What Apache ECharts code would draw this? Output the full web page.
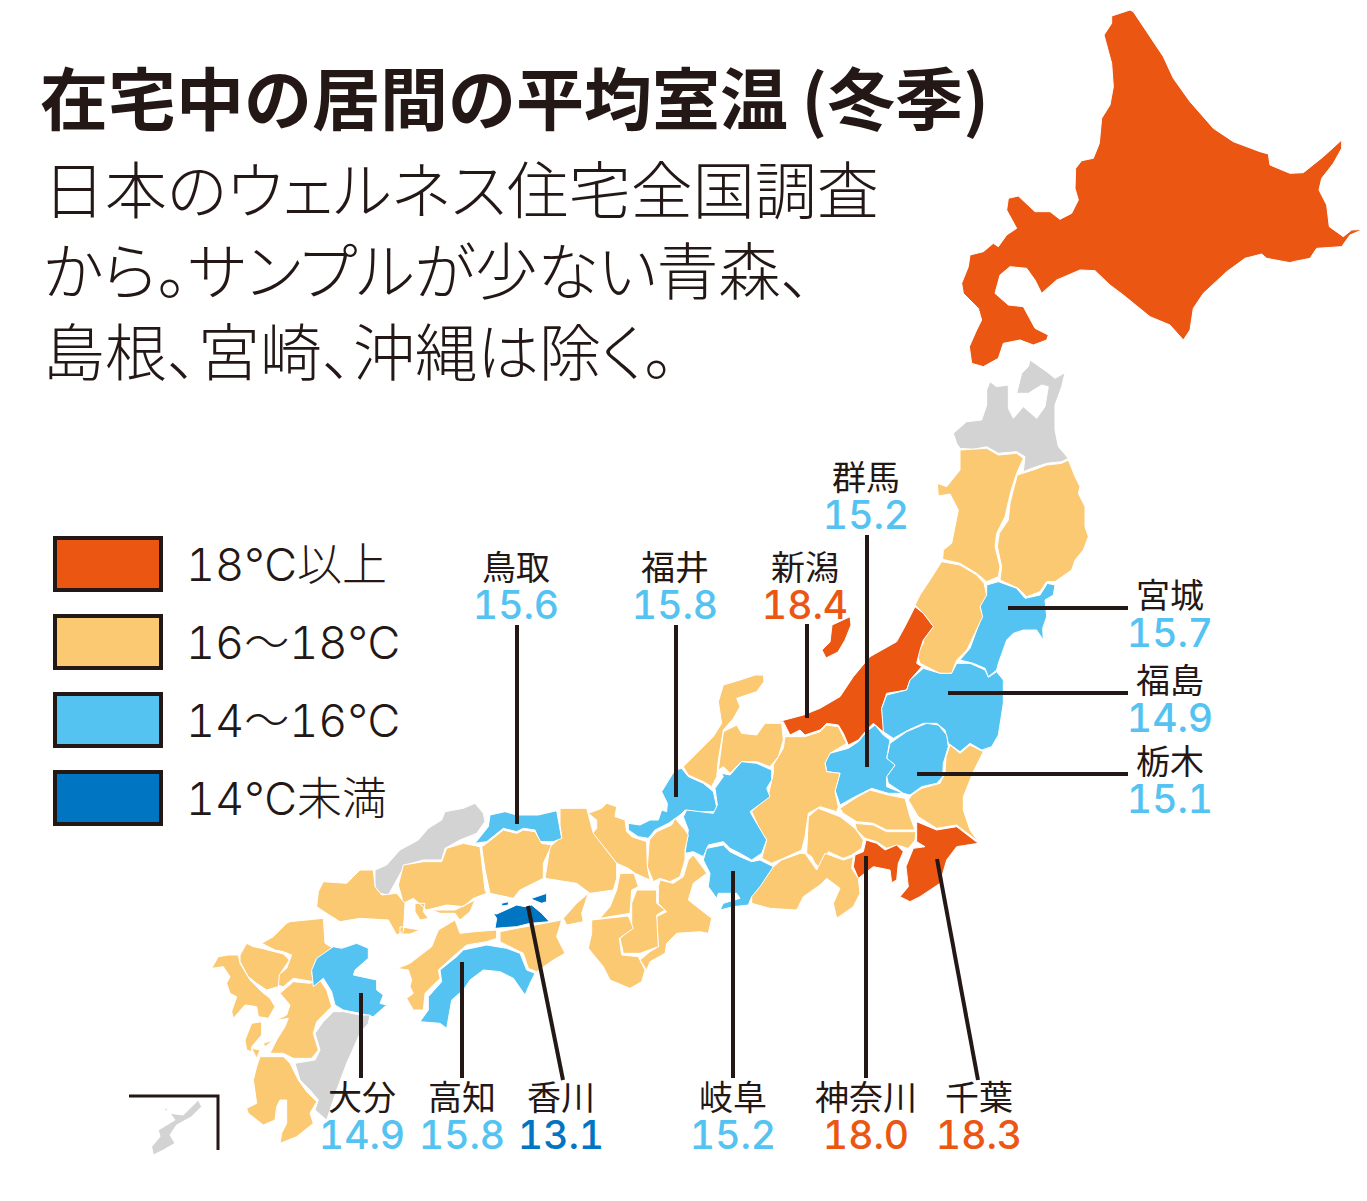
<!DOCTYPE html>
<html>
<head>
<meta charset="utf-8">
<title>在宅中の居間の平均室温(冬季)</title>
<script src="https://cdn.jsdelivr.net/npm/echarts@6/dist/echarts.min.js"></script>
<style>
html, body { margin: 0; padding: 0; background: #fff; }
#chart { width: 1367px; height: 1201px; }
/* tabular figures for the values, tight kana and punctuation for the intro text */
#chart text { font-feature-settings: "tnum" !important; }
#chart text[style*="62px"] { font-feature-settings: "palt" !important; }
</style>
</head>
<body>
<div id="chart"></div>
<script>
// values
var bandNames = ['18℃以上', '16〜18℃', '14〜16℃', '14℃未満'];
var bandColors = ['#EB5713', '#FCC973', '#54C3F1', '#0075C2'];
var over18 = ['北海道', '新潟', '神奈川', '千葉'];
var from16 = ['秋田', '岩手', '山形', '茨城', '埼玉', '東京', '山梨', '長野', '静岡', '富山', '石川', '滋賀', '三重', '京都', '大阪', '奈良', '和歌山', '兵庫', '岡山', '広島', '山口', '徳島', '愛媛', '福岡', '佐賀', '長崎', '熊本', '鹿児島'];
var from14 = ['宮城', '福島', '栃木', '群馬', '福井', '岐阜', '愛知', '鳥取', '高知', '大分'];
var under14 = ['香川'];
var noData = ['青森', '島根', '宮崎', '沖縄'];
var calloutNames = ['群馬', '新潟', '福井', '鳥取', '宮城', '福島', '栃木', '大分', '高知', '香川', '岐阜', '神奈川', '千葉'];
var calloutValues = [15.2, 18.4, 15.8, 15.6, 15.7, 14.9, 15.1, 14.9, 15.8, 13.1, 15.2, 18.0, 18.3];

// where each callout sits on the page: label centre, then leader line ends
var calloutLayout = {
    '群馬': [866, 495, 867, 535, 867, 767],
    '新潟': [805, 585, 807, 624, 807, 718],
    '福井': [675, 585, 676, 625, 676, 797],
    '鳥取': [516, 585, 517, 625, 517, 824],
    '宮城': [1170, 613, 1008, 608, 1128, 608],
    '福島': [1170, 698, 948, 693, 1128, 693],
    '栃木': [1170, 779, 917, 774, 1128, 774],
    '大分': [362, 1115, 361, 993, 361, 1078],
    '高知': [462, 1115, 462, 962, 462, 1078],
    '香川': [561, 1115, 528, 906, 563, 1080],
    '岐阜': [733, 1115, 733, 871, 733, 1078],
    '神奈川': [866, 1115, 866, 856, 866, 1078],
    '千葉': [979, 1115, 937, 859, 978, 1080]
};
var insetFrame = [[129, 1096], [218, 1096], [218, 1150]];

var Z1 = [940, 0], Z2 = [760, 350], Z3 = [740, 640], Z4 = [560, 660], Z5 = [360, 790], Z6 = [120, 880];
var outlines = {
    '北海道': [[Z1, [515,48,570,30,580,35,620,95,670,170,700,235,750,305,820,385,880,425,960,455,985,462,990,495,1050,520,1090,518,1150,470,1205,420,1205,445,1180,490,1145,535,1137,570,1160,615,1168,680,1210,710,1235,690,1270,688,1230,705,1205,740,1130,745,1110,775,1060,785,1050,788,980,775,965,762,915,775,860,815,790,880,760,925,750,990,730,1020,690,975,630,950,550,885,510,855,465,812,420,810,350,840,305,880,285,840,260,805,210,800,180,825,165,880,205,915,250,920,285,985,325,1005,320,1020,280,1035,240,1020,190,1030,175,1075,130,1100,95,1090,88,1040,110,990,125,960,115,925,70,880,65,850,85,800,90,765,130,755,160,730,175,740,200,705,230,685,200,630,205,595,235,588,285,635,330,635,360,658,395,640,415,600,405,565,407,505,425,482,460,475,478,430,485,355,510,315,520,260,515,190,492,105,515,70]]],
    '青森': [[Z2, [810,30,860,65,885,85,915,68,905,110,885,165,885,240,895,290,925,325,905,335,860,340,815,355,790,365,795,320,770,305,715,310,680,290,640,298,600,295,590,280,580,250,620,215,665,210,680,165,680,120,690,95,710,110,745,105,745,175,760,205,790,170,830,205,855,170,865,110,845,105,805,130,770,130,785,70,805,50]]],
    '秋田': [[Z2, [600,300,680,295,715,315,770,310,790,325,770,370,755,415,745,455,735,500,710,550,705,590,720,650,715,680,680,695,650,670,600,640,548,628,550,600,575,580,595,480,570,432,535,438,532,400,560,410,600,360]]],
    '岩手': [[Z2, [925,330,945,380,960,410,955,430,975,470,975,530,985,560,970,600,945,630,935,660,885,695,860,695,840,725,800,740,775,715,720,690,725,650,712,590,718,550,745,510,750,460,760,420,772,375,820,360,860,345,905,340]]],
    '宮城': [[Z2, [680,705,715,695,770,715,795,745,840,735,862,700,885,705,880,735,855,750,860,800,848,835,850,870,830,840,790,840,760,850,740,870,715,940,710,960,685,980,675,955,640,940,600,930,630,895,665,800,660,760,680,730]]],
    '山形': [[Z2, [545,635,600,645,650,675,672,700,680,735,660,770,668,800,635,870,620,900,590,930,575,970,540,970,480,940,470,910,490,880,490,870,520,830,490,790,465,765,480,735,510,690]]],
    '新潟': [[Z3, [115,245,190,225,240,205,300,170,340,110,390,50,470,5,500,-50,525,-100,550,-80,580,-40,550,0,540,30,530,70,545,80,510,120,500,150,440,160,425,205,435,280,400,250,380,270,355,300,325,315,310,280,295,255,260,250,240,270,195,285,180,270,150,285,130,245]],
            [Z3, [330,-70,333,-45,315,0,294,36,258,54,246,30,270,6,276,-45]]],
    '福島': [[Z3, [550,85,600,100,635,100,650,70,690,70,735,90,745,112,770,95,790,120,790,190,775,285,755,320,725,330,690,310,660,335,625,310,615,270,590,250,550,250,505,270,460,295,430,275,425,205,440,165,500,150,510,120]]],
    '栃木': [[Z3, [560,250,595,255,620,285,625,320,610,370,608,410,590,430,545,440,510,465,490,460,445,430,440,410,465,375,440,355,450,310,500,275]]],
    '群馬': [[Z3, [405,255,430,285,450,300,440,355,465,375,440,410,440,440,490,460,445,460,395,445,345,470,300,495,285,450,300,400,260,395,255,365,270,340,325,325,355,305,380,275]]],
    '茨城': [[Z3, [630,315,660,340,690,315,730,335,700,395,670,470,670,510,690,570,715,605,650,555,590,565,535,530,505,480,515,465,545,445,600,430,615,400,618,350]]],
    '埼玉': [[Z3, [390,450,445,465,495,475,510,530,525,570,480,570,440,570,400,550,350,545,310,520,300,505,345,475]]],
    '東京': [[Z3, [345,550,400,555,440,575,495,575,528,575,525,600,505,625,470,615,440,625,410,605,375,595,350,570]]],
    '千葉': [[Z3, [530,545,590,570,650,560,715,610,650,620,620,660,600,730,540,770,510,785,480,770,505,740,498,680,520,625,555,620,530,605]]],
    '神奈川': [[Z3, [378,600,410,610,435,630,470,615,490,635,475,670,470,720,455,728,450,690,400,680,355,715,340,680,345,645,370,635]]],
    '山梨': [[Z3, [235,505,300,530,345,565,370,600,365,625,335,645,310,655,265,635,245,690,225,670,215,650,200,640,205,530]]],
    '長野': [[Z3, [260,255,295,260,320,310,270,340,255,370,260,395,300,400,285,455,295,500,290,515,240,500,205,520,195,590,185,630,130,655,95,670,65,655,80,600,60,570,35,515,85,465,100,400,100,375,130,325,135,290,185,290,195,290,240,275]]],
    '静岡': [[Z3, [195,640,230,690,255,640,310,660,340,650,335,685,355,715,360,760,340,800,290,835,280,790,300,745,260,715,240,735,190,770,170,810,90,805,35,790,35,760,100,680,125,660,180,640]]],
    '富山': [[Z4, [530,195,545,220,590,225,615,190,665,190,670,240,655,290,630,320,590,305,545,305,510,340,490,320,475,330,490,215]]],
    '石川': [[Z4, [610,45,612,65,590,95,530,115,540,140,520,175,490,210,475,300,470,350,455,380,430,365,385,345,370,320,410,280,460,230,485,190,475,125,490,75,540,60,585,45]]],
    '福井': [[Z4, [345,330,365,325,385,350,430,370,460,395,470,440,465,455,410,455,375,450,360,465,325,490,285,510,265,535,235,530,205,510,205,490,240,495,270,480,295,480,305,450,320,455,322,430,305,395]]],
    '岐阜': [[Z4, [485,340,510,345,545,305,590,310,635,330,635,360,620,385,630,410,570,455,590,490,620,540,605,580,575,600,540,580,510,565,490,545,445,555,430,590,400,575,375,580,385,510,370,470,380,450,460,460,472,435,465,385,490,350]]],
    '愛知': [[Z4, [440,565,490,555,510,575,540,590,575,605,600,600,640,620,600,680,575,710,565,735,520,740,480,750,490,730,540,715,530,700,475,700,470,715,445,680,450,640,430,600]]],
    '滋賀': [[Z4, [345,475,375,510,385,525,375,570,375,600,360,650,330,665,300,655,280,665,262,620,268,540,290,515,335,495]]],
    '三重': [[Z4, [400,585,430,625,440,640,400,670,385,720,410,740,455,775,445,820,420,815,350,820,320,850,315,880,270,905,260,930,240,900,270,875,295,860,290,770,320,755,295,730,295,680,300,660,340,670,370,650,385,600]]],
    '京都': [[Z4, [140,430,170,440,165,470,195,480,200,515,215,530,260,545,262,620,270,660,225,640,205,625,170,610,135,565,90,530,110,505,110,480,85,460,125,445]]],
    '大阪': [[Z4, [180,640,222,640,235,680,215,690,210,760,120,775,150,740,170,690]]],
    '奈良': [[Z4, [230,690,290,690,290,730,315,750,290,765,295,860,240,880,190,880,180,835,215,805,215,770,215,730]]],
    '和歌山': [[Z4, [95,780,205,768,220,805,178,835,185,885,235,890,255,930,245,965,210,985,150,960,130,920,85,865,95,820]]],
    '兵庫': [[Z5, [600,55,680,55,700,130,770,220,770,265,760,300,690,310,650,280,555,265,570,170,605,140,600,105]],
            [Z4, [85,700,65,760,70,785,20,795,10,775,50,730]]],
    '鳥取': [[Z5, [390,75,435,65,470,75,535,75,590,62,605,145,580,155,540,155,525,120,490,115,470,125,430,115,380,155,345,160,385,110]]],
    '島根': [[Z5, [345,40,370,70,375,95,350,130,300,150,255,175,245,210,190,210,135,225,110,270,85,315,60,310,45,290,45,240,80,225,120,180,175,150,205,115,245,90,255,65,310,55]]],
    '岡山': [[Z5, [430,120,470,130,490,120,525,125,545,160,575,165,550,220,550,265,480,300,460,325,390,310,375,240,365,170,380,160]]],
    '広島': [[Z5, [360,170,375,300,380,310,340,325,310,350,260,345,200,360,160,325,130,340,115,285,130,225,190,215,245,215,260,175,310,160]],
            [Z5, [215,360,285,360,315,345,345,330,330,365,300,390,285,370,240,370]],
            [Z5, [165,340,195,340,190,365,205,385,180,390,165,365]]],
    '山口': [[Z6, [595,35,610,5,680,10,720,-30,760,-30,765,20,785,45,830,40,855,70,850,155,830,165,805,120,720,115,660,125,620,100,590,80]],
            [Z5, [120,410,180,420,150,432,120,432]]],
    '香川': [[Z5, [400,370,410,372,470,345,495,350,515,345,545,370,568,395,510,400,470,410,405,415,410,385]],
            [Z5, [515,325,560,310,560,335,545,340,520,330]],
            [Z5, [425,340,445,335,445,345,425,348]]],
    '愛媛': [[Z5, [80,548,150,520,215,470,235,420,285,390,300,430,345,425,410,420,410,445,380,455,320,465,290,490,235,540,240,565,195,610,190,660,160,660,140,625,160,610,150,590,155,570,145,540,110,535]]],
    '高知': [[Z5, [310,480,380,465,440,475,480,490,500,540,525,550,510,580,495,615,460,565,420,545,370,540,330,570,310,600,275,630,260,715,240,700,180,695,205,660,205,620,245,575,240,540,290,500]]],
    '徳島': [[Z5, [420,425,470,415,525,405,605,390,590,440,615,490,580,510,530,545,505,535,490,490,450,470,420,455]]],
    '福岡': [[Z6, [510,125,610,115,615,190,640,205,640,215,590,235,575,275,580,305,520,295,490,320,470,315,470,290,500,265,515,225,490,215,465,210,425,190,460,170,500,130]]],
    '佐賀': [[Z6, [380,190,400,200,425,205,490,222,508,240,478,285,475,320,440,330,410,310,385,290,360,245,360,225]]],
    '長崎': [[Z6, [275,265,295,230,325,225,355,225,360,250,390,300,425,335,450,355,465,380,445,415,415,410,410,380,375,375,340,415,335,395,350,350,330,340,320,310,330,290,310,260]]],
    '熊本': [[Z6, [520,305,570,310,600,300,620,330,635,380,590,425,580,460,595,510,575,535,520,535,490,520,450,520,470,480,495,440,505,415,475,420,430,440,470,420,500,405,510,375,480,340]],
            [Z6, [375,480,395,430,425,425,425,465,395,500,395,515,380,510]],
            [Z6, [430,490,460,480,435,500]]],
    '大分': [[Z6, [640,200,665,205,710,190,745,205,745,235,705,270,700,285,770,300,770,330,790,345,780,370,800,375,760,410,720,400,670,390,645,375,635,335,610,295,580,320,575,270,590,235]]],
    '宮崎': [[Z6, [640,395,670,395,720,405,750,405,745,430,720,460,680,550,650,630,620,720,585,690,595,660,570,630,540,600,525,550,585,540,600,510,585,460,610,425]]],
    '鹿児島': [[Z6, [420,530,490,530,510,550,535,600,560,635,590,665,570,700,580,730,530,770,480,790,485,760,500,730,500,660,480,660,470,680,465,720,430,735,385,700,380,685,410,670,400,600,410,560]],
            [Z6, [395,505,420,510,410,535]]],
    '沖縄': [[Z6, [235,660,245,680,215,710,170,735,150,765,165,790,130,810,100,825,95,800,120,770,115,750,165,720,150,700,190,705]],
            [Z6, [128,685,145,685,140,692]]]
};

var PAGE_W = 1367, PAGE_H = 1201;
var INK = '#231815';
var FONT = '"Noto Sans CJK JP", sans-serif';
var NUM_FONT = 'Inter, "Noto Sans CJK JP", sans-serif';

// latitude runs upward, page y downward
function toMapCoord(x, y) {
    return [x, PAGE_H - y];
}

function traceRing(origin, pts) {
    var ring = [];
    for (var i = 0; i < pts.length; i += 2) {
        ring.push(toMapCoord(origin[0] + pts[i] / 3, origin[1] + pts[i + 1] / 3));
    }
    ring.push(ring[0]);
    return ring;
}

var features = [];
for (var name in outlines) {
    features.push({
        type: 'Feature',
        properties: { name: name },
        geometry: {
            type: 'MultiPolygon',
            coordinates: outlines[name].map(function (part) {
                return [traceRing(part[0], part[1])];
            })
        }
    });
}
echarts.registerMap('japan', { type: 'FeatureCollection', features: features });

function bandIndex(value) {
    if (value >= 18) return 0;
    if (value >= 16) return 1;
    if (value >= 14) return 2;
    return 3;
}

var regions = [];
[over18, from16, from14, under14].forEach(function (list, band) {
    list.forEach(function (n) {
        regions.push({ name: n, itemStyle: { areaColor: bandColors[band] } });
    });
});
noData.forEach(function (n) {
    regions.push({ name: n, itemStyle: { areaColor: '#D3D3D4' } });
});

var leaderLines = calloutNames.map(function (n) {
    var c = calloutLayout[n];
    return { coords: [toMapCoord(c[2], c[3]), toMapCoord(c[4], c[5])] };
});

// one series per band so the legend and the label colours come from the same place
var bandSeries = bandNames.map(function (bandName, band) {
    var items = [];
    calloutNames.forEach(function (n, i) {
        if (bandIndex(calloutValues[i]) === band) {
            var c = calloutLayout[n];
            items.push({ name: n, value: toMapCoord(c[0], c[1]).concat(calloutValues[i]) });
        }
    });
    return {
        name: bandName,
        type: 'scatter',
        coordinateSystem: 'geo',
        geoIndex: 0,
        symbolSize: 0,
        silent: true,
        z: 5,
        itemStyle: { color: bandColors[band], opacity: 1 },
        label: {
            show: true,
            position: 'inside',
            formatter: function (p) {
                return '{n|' + p.name + '}\n{v|' + p.value[2].toFixed(1) + '}';
            },
            rich: {
                n: { fontFamily: FONT, fontSize: 34, lineHeight: 39, color: INK, align: 'center' },
                v: { fontFamily: NUM_FONT, fontSize: 39, fontWeight: 500, lineHeight: 39, color: bandColors[band], align: 'center' }
            }
        },
        data: items
    };
});

var chart = echarts.init(document.getElementById('chart'), null, { renderer: 'svg' });
chart.setOption({
    backgroundColor: '#fff',
    animation: false,
    title: [{
        text: '在宅中の居間の平均室温\u2009(冬季)',
        left: 35,
        top: 56,
        textStyle: { fontFamily: FONT, fontSize: 68, fontWeight: 'bold', color: INK }
    }, {
        text: '日本のウェルネス住宅全国調査\nから。サンプルが少ない青森、\n島根、宮崎、沖縄は除く。',
        left: 38,
        top: 141,
        textStyle: { fontFamily: FONT, fontSize: 62, fontWeight: 300, lineHeight: 81, color: INK }
    }],
    legend: {
        orient: 'vertical',
        left: 48,
        top: 531,
        itemWidth: 106,
        itemHeight: 52,
        itemGap: 22,
        icon: 'rect',
        selectedMode: false,
        itemStyle: { borderColor: INK, borderWidth: 4 },
        textStyle: { fontFamily: NUM_FONT, fontSize: 45, fontWeight: 300, color: INK, padding: [0, 0, 0, 20] },
        data: bandNames
    },
    geo: {
        map: 'japan',
        silent: true,
        roam: false,
        aspectScale: 1,
        boundingCoords: [[0, PAGE_H], [PAGE_W, 0]],
        layoutCenter: ['50%', '50%'],
        layoutSize: PAGE_W,
        itemStyle: { areaColor: '#FCC973', borderColor: '#fff', borderWidth: 1 },
        label: { show: false },
        emphasis: { disabled: true },
        regions: regions
    },
    series: bandSeries.concat([{
        type: 'lines',
        coordinateSystem: 'geo',
        geoIndex: 0,
        silent: true,
        z: 4,
        lineStyle: { color: INK, width: 4, opacity: 1, curveness: 0 },
        data: leaderLines
    }, {
        type: 'lines',
        coordinateSystem: 'geo',
        geoIndex: 0,
        polyline: true,
        silent: true,
        z: 4,
        lineStyle: { color: INK, width: 3, opacity: 1 },
        data: [{ coords: insetFrame.map(function (p) { return toMapCoord(p[0], p[1]); }) }]
    }])
});
</script>
</body>
</html>
